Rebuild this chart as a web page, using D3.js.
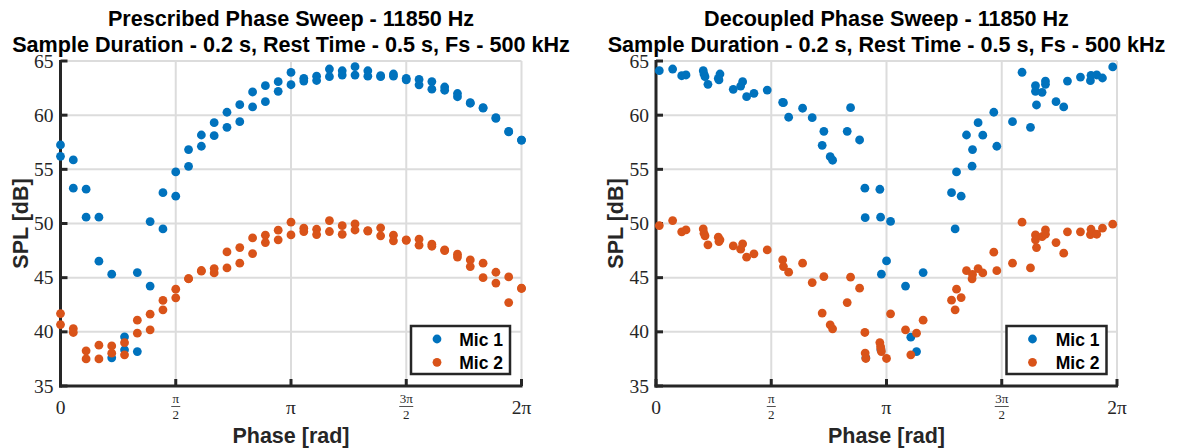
<!DOCTYPE html>
<html>
<head>
<meta charset="utf-8">
<script src="https://cdn.jsdelivr.net/npm/d3@7"></script>
<style>
  html, body { margin: 0; padding: 0; background: #fff; }
  svg { display: block; }
</style>
</head>
<body>
<svg id="chart" width="1179" height="448"></svg>
<script>
// ---------------- DATA ----------------
const titlesLeft = ["Prescribed Phase Sweep - 11850 Hz", "Sample Duration - 0.2 s, Rest Time - 0.5 s, Fs - 500 kHz"];
const titlesRight = ["Decoupled Phase Sweep - 11850 Hz", "Sample Duration - 0.2 s, Rest Time - 0.5 s, Fs - 500 kHz"];
const xLabel = "Phase [rad]";
const yLabel = "SPL [dB]";
const seriesNames = ["Mic 1", "Mic 2"];
const yTicks = [35, 40, 45, 50, 55, 60, 65];
const xTickLabels = [
  {v: 0, num: "0", den: null},
  {v: Math.PI / 2, num: "π", den: "2"},
  {v: Math.PI, num: "π", den: null},
  {v: 3 * Math.PI / 2, num: "3π", den: "2"},
  {v: 2 * Math.PI, num: "2π", den: null}
];

// Left: prescribed sweep, phase in degrees, two passes per mic
const leftPhaseDeg = [0,10,20,30,40,50,60,70,80,90,100,110,120,130,140,150,160,170,180,
  190,200,210,220,230,240,250,260,270,280,290,300,310,320,330,340,350,360];
const leftMic1A = [57.25,55.87,53.17,50.58,45.32,39.54,45.47,50.18,52.85,54.76,56.82,58.17,59.31,60.27,60.97,62.14,62.72,63.09,63.95,
  63.40,63.60,64.26,64.10,64.48,64.10,63.65,63.80,63.40,63.30,63.10,62.60,62.00,61.15,60.70,59.77,58.50,57.70];
const leftMic1B = [56.20,53.26,50.58,46.52,37.60,38.34,38.18,44.22,49.50,52.52,55.28,57.13,58.11,58.88,59.40,60.76,61.25,62.20,62.81,
  63.15,63.20,63.55,63.70,63.70,63.60,63.55,63.60,63.25,62.80,62.40,62.30,61.70,61.10,60.65,59.70,58.45,57.70];
const leftMic2A = [41.69,40.30,38.25,38.77,38.70,39.00,41.08,41.63,42.90,43.94,44.92,45.66,45.84,47.38,47.78,48.67,48.92,49.38,50.12,
  49.57,49.47,50.27,49.80,49.96,49.35,49.60,48.92,48.49,48.55,48.09,47.56,47.17,46.64,46.34,45.50,45.07,44.03];
const leftMic2B = [40.67,39.94,37.50,37.50,38.03,37.88,39.88,40.19,42.03,43.14,44.90,45.60,45.44,45.90,46.34,47.22,48.24,48.49,48.95,
  49.26,48.98,49.26,49.00,49.40,49.30,48.86,48.40,48.45,48.00,47.90,47.50,46.90,46.02,45.00,44.50,42.70,44.00];

// Right: decoupled sweep, phase in radians
const rightPhase = [0.045,0.227,0.350,0.409,0.644,0.654,0.668,0.708,0.849,0.872,0.858,1.053,1.154,1.181,1.235,1.335,1.516,
  1.726,1.737,1.808,1.998,2.129,2.288,2.265,2.374,2.407,2.606,2.652,2.775,2.847,2.851,2.860,3.051,3.061,3.072,3.065,
  3.142,3.197,3.401,3.473,3.551,3.641,4.028,4.077,4.096,4.159,4.232,4.308,4.314,4.390,4.454,4.604,4.645,4.859,4.989,
  5.104,5.172,5.172,5.186,5.262,5.308,5.308,5.452,5.557,5.608,5.785,5.921,5.929,6.007,6.085,6.225];
const rightMic1 = [64.11,64.26,63.64,63.71,64.11,63.80,63.55,62.85,63.40,63.80,63.25,62.39,62.69,63.09,61.71,62.02,62.32,
  61.19,61.15,59.81,60.64,59.77,58.51,57.22,56.17,55.84,58.51,60.69,57.71,53.26,50.54,37.60,53.16,50.58,45.32,38.34,
  46.55,50.19,44.22,39.51,38.18,45.47,52.85,49.50,54.76,52.52,58.17,55.29,56.82,59.31,58.15,60.27,57.13,59.40,63.96,
  58.88,62.20,62.72,60.94,62.11,63.15,62.85,61.25,60.76,63.15,63.52,63.18,63.68,63.71,63.43,64.45];
const rightMic2 = [49.81,50.27,49.23,49.41,49.50,49.10,48.86,48.03,48.74,48.49,48.33,47.93,47.63,48.12,46.89,47.20,47.56,
  46.64,46.02,45.51,46.34,44.55,45.10,41.73,40.65,40.28,42.70,45.05,44.03,39.94,38.04,37.54,39.01,38.64,38.18,38.43,
  37.54,41.66,40.19,37.88,39.88,41.08,42.92,42.03,43.94,43.16,45.65,44.89,45.30,45.84,45.44,47.35,45.65,46.34,50.12,
  45.90,48.95,48.49,47.78,48.79,49.41,49.01,48.24,47.26,49.23,49.23,48.98,49.47,49.01,49.57,49.94];

// ---------------- STYLE ----------------
const colors = ["#0072BD", "#D95319"];
const axisColor = "#262626";
const gridColor = "#dcdcdc";
const sansBold = "'Liberation Sans', Arial, Helvetica, sans-serif";
const serif = "'Liberation Serif', 'Times New Roman', serif";

const svg = d3.select("#chart");

function drawPanel(opts) {
  const {x0, x1, y0, y1, titles, points, legendBox} = opts;
  const x = d3.scaleLinear().domain([0, 2 * Math.PI]).range([x0, x1]);
  const y = d3.scaleLinear().domain([35, 65]).range([y1, y0]);
  const g = svg.append("g");

  // grid
  g.selectAll(".gx").data(xTickLabels).join("line")
    .attr("x1", d => x(d.v)).attr("x2", d => x(d.v))
    .attr("y1", y0).attr("y2", y1)
    .attr("stroke", gridColor).attr("stroke-width", 2);
  g.selectAll(".gy").data(yTicks).join("line")
    .attr("x1", x0).attr("x2", x1)
    .attr("y1", d => y(d)).attr("y2", d => y(d))
    .attr("stroke", gridColor).attr("stroke-width", 2);

  // axes lines with inward ticks
  const axisG = g.append("g");
  axisG.append("line").attr("x1", x0).attr("x2", x0).attr("y1", y0 - 1).attr("y2", y1 + 1.5)
    .attr("stroke", axisColor).attr("stroke-width", 3);
  axisG.append("line").attr("x1", x0 - 1.5).attr("x2", x1 + 1).attr("y1", y1).attr("y2", y1)
    .attr("stroke", axisColor).attr("stroke-width", 3);
  axisG.selectAll(".ty").data(yTicks).join("line")
    .attr("x1", x0).attr("x2", x0 + 7).attr("y1", d => y(d)).attr("y2", d => y(d))
    .attr("stroke", axisColor).attr("stroke-width", 3);
  axisG.selectAll(".tx").data(xTickLabels).join("line")
    .attr("x1", d => x(d.v)).attr("x2", d => x(d.v)).attr("y1", y1).attr("y2", y1 - 7)
    .attr("stroke", axisColor).attr("stroke-width", 3);

  // y tick labels
  g.selectAll(".yl").data(yTicks).join("text")
    .attr("x", x0 - 7).attr("y", d => y(d) + 6.5)
    .attr("text-anchor", "end")
    .attr("font-family", serif).attr("font-size", 19.5).attr("fill", axisColor)
    .text(d => d);

  // x tick labels (LaTeX-like)
  xTickLabels.forEach(t => {
    const cx = x(t.v);
    if (t.den === null) {
      g.append("text").attr("x", cx).attr("y", 414)
        .attr("text-anchor", "middle").attr("font-family", serif).attr("font-size", 19.5)
        .attr("fill", axisColor).text(t.num);
    } else {
      g.append("text").attr("x", cx).attr("y", 403)
        .attr("text-anchor", "middle").attr("font-family", serif).attr("font-size", 13)
        .attr("fill", axisColor).text(t.num);
      g.append("line").attr("x1", cx - (t.num.length > 1 ? 7 : 4.5)).attr("x2", cx + (t.num.length > 1 ? 7 : 4.5))
        .attr("y1", 406.5).attr("y2", 406.5).attr("stroke", axisColor).attr("stroke-width", 0.8);
      g.append("text").attr("x", cx).attr("y", 419)
        .attr("text-anchor", "middle").attr("font-family", serif).attr("font-size", 13)
        .attr("fill", axisColor).text(t.den);
    }
  });

  // axis labels
  const cxMid = (x0 + x1) / 2;
  g.append("text").attr("x", cxMid).attr("y", 443)
    .attr("text-anchor", "middle").attr("font-family", sansBold).attr("font-weight", "bold")
    .attr("font-size", 21.5).attr("fill", axisColor).text(xLabel);
  g.append("text").attr("transform", `translate(${x0 - 33},${(y0 + y1) / 2}) rotate(-90)`)
    .attr("text-anchor", "middle").attr("font-family", sansBold).attr("font-weight", "bold")
    .attr("font-size", 21.5).attr("fill", axisColor).text(yLabel);

  // titles
  g.append("text").attr("x", cxMid).attr("y", 26)
    .attr("text-anchor", "middle").attr("font-family", sansBold).attr("font-weight", "bold")
    .attr("font-size", 21.6).attr("fill", "#000").text(titles[0]);
  g.append("text").attr("x", cxMid).attr("y", 51.5)
    .attr("text-anchor", "middle").attr("font-family", sansBold).attr("font-weight", "bold")
    .attr("font-size", 21.6).attr("fill", "#000").text(titles[1]);

  // points
  points.forEach((pts, i) => {
    g.append("g").selectAll("circle").data(pts).join("circle")
      .attr("cx", d => x(d[0])).attr("cy", d => y(d[1])).attr("r", 4.4)
      .attr("fill", colors[i]);
  });

  // legend
  const lb = legendBox;
  const lg = g.append("g");
  lg.append("rect").attr("x", lb.x).attr("y", lb.y).attr("width", lb.w).attr("height", lb.h)
    .attr("fill", "#fff").attr("stroke", axisColor).attr("stroke-width", 2.5);
  seriesNames.forEach((name, i) => {
    const cy = lb.y + 13 + i * 23.3;
    lg.append("circle").attr("cx", lb.x + 26).attr("cy", cy).attr("r", 4.4).attr("fill", colors[i]);
    lg.append("text").attr("x", lb.x + lb.w - 7).attr("y", cy + 6.5)
      .attr("text-anchor", "end").attr("font-family", sansBold).attr("font-weight", "bold")
      .attr("font-size", 17.5).attr("fill", "#000").text(name);
  });
}

const toRad = d => d * Math.PI / 180;
const leftMic1 = leftPhaseDeg.map((p, i) => [toRad(p), leftMic1A[i]])
  .concat(leftPhaseDeg.map((p, i) => [toRad(p), leftMic1B[i]]));
const leftMic2 = leftPhaseDeg.map((p, i) => [toRad(p), leftMic2A[i]])
  .concat(leftPhaseDeg.map((p, i) => [toRad(p), leftMic2B[i]]));
const rMic1 = rightPhase.map((p, i) => [p, rightMic1[i]]);
const rMic2 = rightPhase.map((p, i) => [p, rightMic2[i]]);

drawPanel({x0: 60.5, x1: 521.5, y0: 61, y1: 386, titles: titlesLeft,
  points: [leftMic1, leftMic2], legendBox: {x: 411, y: 326, w: 99, h: 48}});
drawPanel({x0: 656, x1: 1117, y0: 61, y1: 386, titles: titlesRight,
  points: [rMic1, rMic2], legendBox: {x: 1006.5, y: 326, w: 100, h: 48}});
</script>
</body>
</html>
